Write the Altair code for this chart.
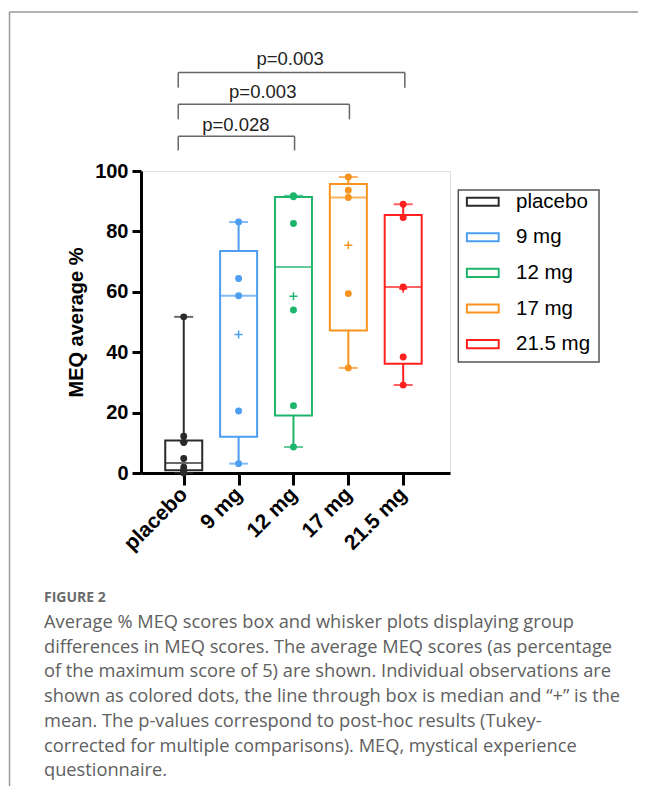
import json
import altair as alt
import pandas as pd

# ---------------- data ----------------
groups = ["placebo", "9 mg", "12 mg", "17 mg", "21.5 mg"]
colors = ["#2a2a2a", "#4d9ef2", "#1db56c", "#f7931e", "#ff1f1f"]
positions = [0, 1, 2, 3, 4]

q1 = [0.9, 12.0, 19.0, 47.2, 36.2]
median = [3.3, 58.7, 68.2, 91.2, 61.6]
q3 = [10.8, 73.5, 91.4, 95.7, 85.4]
whisker_low = [0.0, 3.1, 8.6, 34.8, 29.1]
whisker_high = [51.7, 83.1, 91.8, 98.0, 89.0]
means = [10.3, 45.9, 58.5, 75.4, 61.0]

obs_placebo = [51.7, 12.2, 10.1, 4.8, 1.9, 0.9, 0.4, 0.0]
obs_9mg = [83.1, 64.4, 58.7, 20.5, 3.1]
obs_12mg = [91.8, 91.5, 82.6, 54.0, 22.3, 8.6]
obs_17mg = [98.0, 93.6, 91.2, 59.4, 34.8]
obs_21mg = [89.0, 84.6, 61.6, 38.4, 29.1]

br_left = [-0.1, -0.1, -0.1]
br_right = [2.02, 3.02, 4.03]
br_top = [111.5, 122.1, 132.6]
br_bottom = [106.8, 117.1, 127.6]
p_text = ["p=0.028", "p=0.003", "p=0.003"]
p_x = [0.95, 1.44, 1.94]
p_y = [113.2, 124.3, 135.0]

y_ticks = [0, 20, 40, 60, 80, 100]

fig_label = "FIGURE 2"
caption_lines = [
    "Average % MEQ scores box and whisker plots displaying group",
    "differences in MEQ scores. The average MEQ scores (as percentage",
    "of the maximum score of 5) are shown. Individual observations are",
    "shown as colored dots, the line through box is median and \u201c+\u201d is the",
    "mean. The p-values correspond to post-hoc results (Tukey-",
    "corrected for multiple comparisons). MEQ, mystical experience",
    "questionnaire.",
]

# ---------------- tables ----------------
box_df = pd.DataFrame({
    "group": groups, "pos": positions, "q1": q1, "median": median, "q3": q3,
    "lo": whisker_low, "hi": whisker_high, "mean": means,
})
obs_lists = [obs_placebo, obs_9mg, obs_12mg, obs_17mg, obs_21mg]
pts_df = pd.DataFrame([
    {"group": g, "pos": p, "value": v}
    for g, p, vals in zip(groups, positions, obs_lists) for v in vals
])
br_df = pd.DataFrame({"left": br_left, "right": br_right, "top": br_top,
                      "bottom": br_bottom, "label": p_text, "lx": p_x, "ly": p_y})

FONT = "Liberation Sans"
xs = alt.Scale(domain=[-0.688, 4.762], nice=False, zero=False)
ys = alt.Scale(domain=[0, 100], nice=False)
label_expr = json.dumps(groups) + "[datum.value]"

x_axis = alt.Axis(values=positions, labelExpr=label_expr, title=None, grid=False,
                  labelAngle=-45, labelAlign="right", labelBaseline="middle",
                  labelOverlap=False,
                  labelFont=FONT, labelFontSize=21, labelFontWeight="bold",
                  labelColor="black", labelPadding=6, tickSize=12, tickWidth=3,
                  tickColor="black", domainColor="black", domainWidth=3)
y_axis = alt.Axis(values=y_ticks, title="MEQ average %", grid=False,
                  labelFont=FONT, labelFontSize=20, labelFontWeight="bold",
                  labelColor="black", labelPadding=4, tickSize=9, tickWidth=3,
                  tickColor="black", domainColor="black", domainWidth=3,
                  titleFont=FONT, titleFontSize=20, titleFontWeight="bold",
                  titleColor="black", titlePadding=8)

X = lambda f: alt.X(f, scale=xs, axis=x_axis)
Y = lambda f: alt.Y(f, scale=ys, axis=y_axis)
col_scale = alt.Scale(domain=groups, range=colors)

# thin rectangular ring: whatever the fill, only its outline shows
ring = ("M-0.62,-0.26H1.38V0.26H-0.62Z"
        "M-0.608,-0.248V0.248H1.368V-0.248Z")
legend = alt.Legend(title=None, orient="none", legendX=316.7, legendY=11.7,
                    symbolType=ring, symbolSize=1024, symbolStrokeWidth=1.8,
                    labelFont=FONT, labelFontSize=20.5, labelColor="black",
                    labelOffset=22.3, rowPadding=7.6, padding=2)

base_box = alt.Chart(box_df)
boxes = base_box.mark_bar(size=37, filled=False, strokeWidth=2).encode(
    x=X("pos:Q"), y=Y("q1:Q"), y2="q3:Q",
    stroke=alt.Stroke("group:N", scale=col_scale, legend=legend),
)
whisk_hi = base_box.mark_rule(strokeWidth=2).encode(
    x=X("pos:Q"), y=Y("q3:Q"), y2="hi:Q",
    color=alt.Color("group:N", scale=col_scale, legend=None))
whisk_lo = base_box.mark_rule(strokeWidth=2).encode(
    x=X("pos:Q"), y=Y("lo:Q"), y2="q1:Q",
    color=alt.Color("group:N", scale=col_scale, legend=None))
cap_hi = base_box.mark_tick(orient="horizontal", size=19, thickness=2).encode(
    x=X("pos:Q"), y=Y("hi:Q"),
    color=alt.Color("group:N", scale=col_scale, legend=None))
cap_lo = base_box.mark_tick(orient="horizontal", size=19, thickness=2).encode(
    x=X("pos:Q"), y=Y("lo:Q"),
    color=alt.Color("group:N", scale=col_scale, legend=None))
med = base_box.mark_tick(orient="horizontal", size=37, thickness=2).encode(
    x=X("pos:Q"), y=Y("median:Q"),
    color=alt.Color("group:N", scale=col_scale, legend=None))
mean_pl = base_box.mark_point(shape="M-1,0H1M0,-1V1", size=64, filled=False,
                              strokeWidth=1.5, opacity=1).encode(
    x=X("pos:Q"), y=Y("mean:Q"),
    color=alt.Color("group:N", scale=col_scale, legend=None))
dots = alt.Chart(pts_df).mark_circle(size=48, opacity=1).encode(
    x=X("pos:Q"), y=Y("value:Q"),
    color=alt.Color("group:N", scale=col_scale, legend=None))

br_base = alt.Chart(br_df)
br_h = br_base.mark_rule(color="#666666", strokeWidth=1.5).encode(
    x=X("left:Q"), x2="right:Q", y=Y("top:Q"))
br_l = br_base.mark_rule(color="#666666", strokeWidth=1.5).encode(
    x=X("left:Q"), y=Y("top:Q"), y2="bottom:Q")
br_r = br_base.mark_rule(color="#666666", strokeWidth=1.5).encode(
    x=X("right:Q"), y=Y("top:Q"), y2="bottom:Q")
br_t = br_base.mark_text(font=FONT, fontSize=18.5, color="#222222",
                         baseline="alphabetic", align="center").encode(
    x=X("lx:Q"), y=Y("ly:Q"), text="label:N")

one = alt.Chart(pd.DataFrame({"k": [0]}))
legend_box = one.mark_rect(fill=None, stroke="#555555", strokeWidth=1.5).encode(
    x=alt.value(317.3), x2=alt.value(458), y=alt.value(19), y2=alt.value(191))
frame_top = one.mark_rule(color="#9a9a9a", strokeWidth=1.5).encode(
    x=alt.value(-131.5), x2=alt.value(497), y=alt.value(-159))
frame_left = one.mark_rule(color="#9a9a9a", strokeWidth=1.5).encode(
    x=alt.value(-131.5), y=alt.value(-159), y2=alt.value(620))
fig_txt = one.mark_text(text=fig_label, font="Open Sans", fontSize=14,
                        fontWeight="bold", color="#6b6b6b", align="left",
                        baseline="alphabetic").encode(
    x=alt.value(-97), y=alt.value(431))
cap_txt = one.mark_text(text=caption_lines, font="Open Sans", fontSize=18.25,
                        color="#606060", align="left", baseline="alphabetic",
                        lineHeight=24.7).encode(
    x=alt.value(-97), y=alt.value(457))

chart = alt.layer(
    boxes, whisk_hi, whisk_lo, cap_hi, cap_lo, med, dots, mean_pl,
    br_h, br_l, br_r, br_t, legend_box, frame_top, frame_left, fig_txt, cap_txt,
).properties(
    width=309, height=302,
    autosize=alt.AutoSizeParams(type="none"),
    padding={"left": 133, "top": 163, "right": 188, "bottom": 313},
).configure_view(stroke=None).configure(background="white")

chart.save("out.html", embed_options={"renderer": "svg", "actions": False})
